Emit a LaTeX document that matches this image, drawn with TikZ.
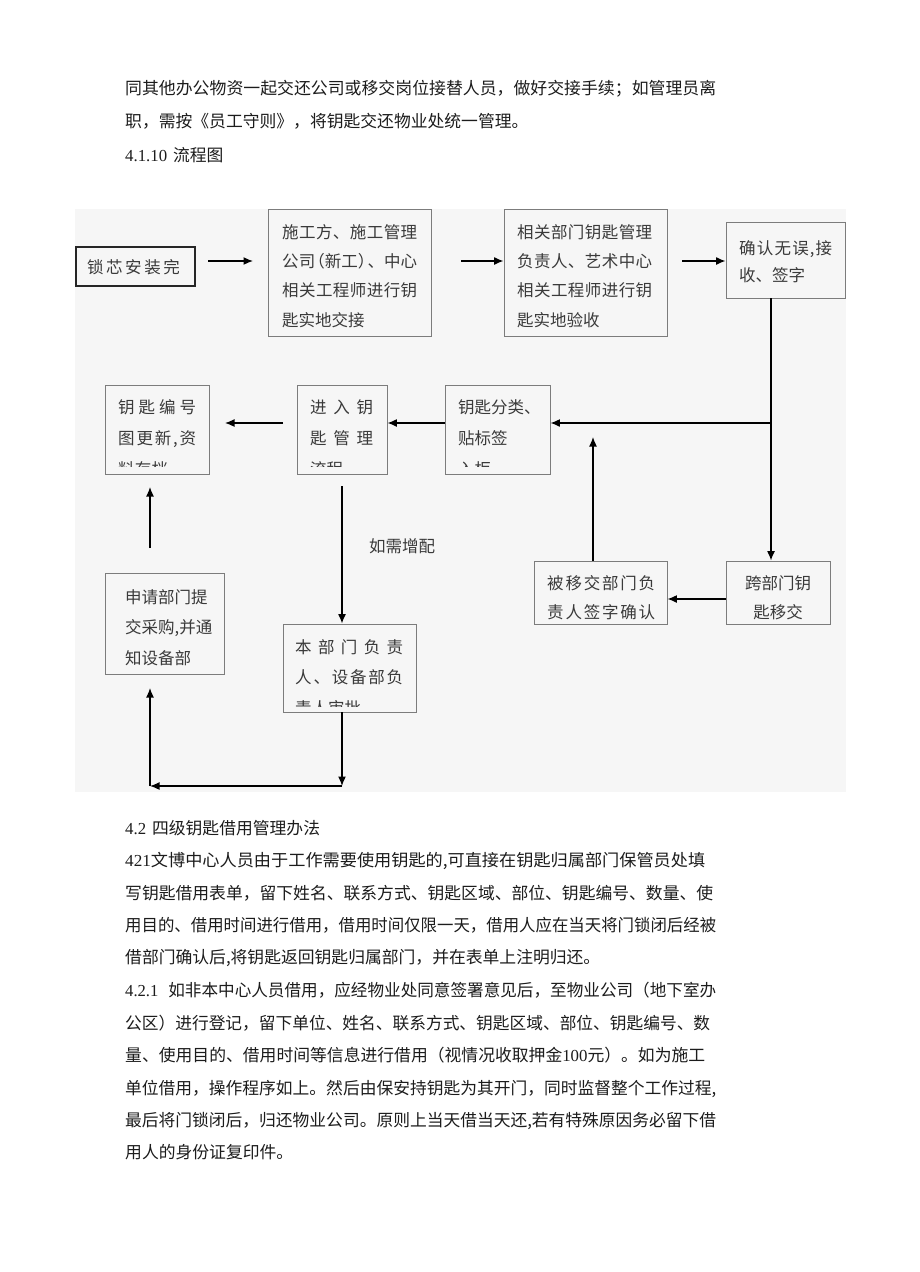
\documentclass[tikz,border=0pt]{standalone}
\usepackage{fontspec}
\usepackage{graphicx}
\usepackage{tikz}
\usetikzlibrary{arrows.meta}
\setmainfont{Noto Sans CJK SC}
\newfontfamily\latn{Liberation Serif}
\definecolor{panelgray}{HTML}{F6F6F6}
\definecolor{boxline}{HTML}{7C7C7C}
\definecolor{boxtext}{HTML}{3A3A3A}
\definecolor{bodytext}{HTML}{1C1C1C}

\makeatletter
% spread the characters of a line over a given width
\newcommand\spreadtext[2]{\makebox[#1][s]{\let\sp@gap\relax\@tfor\sp@ch:=#2\do{\sp@gap\sp@ch\let\sp@gap\hfill}}}
\makeatother
% set a justified body line to a given width
\newcommand\fitline[2]{\resizebox{#1}{\height}{#2}}

\begin{document}
\begin{tikzpicture}[x=1pt,y=1pt,yscale=-1,xscale=1,
    box/.style={draw=boxline,line width=0.9pt,inner sep=0pt},
    boxline/.style={text=boxtext,font=\fontsize{16.5}{16.5}\selectfont,inner sep=0pt,text height=14pt,text depth=2pt},
    body/.style={text=bodytext,font=\fontsize{16.8}{17}\selectfont,inner sep=0pt,anchor=west,text height=14.5pt,text depth=2pt},
    arr/.style={line width=1.3pt,-{Latex[length=9.5pt,width=8pt]}},
    link/.style={line width=1.3pt}]
        %set page size
        \fill[white] (0,0) rectangle (920,1272);
        \useasboundingbox (0,0) rectangle (920,1272);

        % Text Node
        \node [body] (p1) at (125,88) {\fitline{591pt}{同其他办公物资一起交还公司或移交岗位接替人员，做好交接手续；如管理员离}};
        % Text Node
        \node [body] (p2) at (125,121) {职，需按《员工守则》，将钥匙交还物业处统一管理。};
        % Text Node
        \node [body] (h1) at (125,155) {{\latn 4.1.10}\hspace{0.35em}流程图};

        %Shape: Panel
        \fill [panelgray] (75,209) rectangle (846,792);

        %Shape: Rectangle
        \node [box,draw=black!85,line width=1.4pt,minimum width=119pt,minimum height=39pt] (lockdone) at (135.5,266.5) {};
        \node [box,minimum width=163pt,minimum height=127pt] (handover) at (349.5,272.5) {};
        \node [box,minimum width=163pt,minimum height=127pt] (acceptance) at (585.5,272.5) {};
        \node [box,minimum width=119pt,minimum height=76pt] (confirm) at (785.5,260) {};
        \node [box,minimum width=104pt,minimum height=89pt] (mapupdate) at (157,429.5) {};
        \node [box,minimum width=90pt,minimum height=89pt] (keymgmt) at (342,429.5) {};
        \node [box,minimum width=105pt,minimum height=89pt] (classify) at (497.5,429.5) {};
        \node [box,minimum width=104pt,minimum height=63pt] (crossdept) at (778,592.5) {};
        \node [box,minimum width=133pt,minimum height=63pt] (signoff) at (600.5,592.5) {};
        \node [box,minimum width=119pt,minimum height=101pt] (purchase) at (164.5,623.5) {};
        \node [box,minimum width=133pt,minimum height=88pt] (approve) at (349.5,668) {};

        % Text Node
        \node [boxline] (t1) at (133.5,267) {\spreadtext{93pt}{锁芯安装完}};
        % Text Node
        \node [boxline,anchor=west] (t2a) at (282,232) {\spreadtext{135pt}{施工方、施工管理}};
        \node [boxline,anchor=west] (t2b) at (282,261) {\makebox[135pt][s]{公\hfill 司\hfill\kern-7pt（新\hfill 工）\kern-7pt\hfill 、\hfill 中\hfill 心}};
        \node [boxline,anchor=west] (t2c) at (282,290) {\spreadtext{135pt}{相关工程师进行钥}};
        \node [boxline,anchor=west] (t2d) at (282,320) {匙实地交接};
        % Text Node
        \node [boxline,anchor=west] (t3a) at (517,232) {\spreadtext{135pt}{相关部门钥匙管理}};
        \node [boxline,anchor=west] (t3b) at (517,261) {\spreadtext{135pt}{负责人、艺术中心}};
        \node [boxline,anchor=west] (t3c) at (517,290) {\spreadtext{135pt}{相关工程师进行钥}};
        \node [boxline,anchor=west] (t3d) at (517,320) {匙实地验收};
        % Text Node
        \node [boxline,anchor=west] (t4a) at (739,248) {\spreadtext{93pt}{确认无误,接}};
        \node [boxline,anchor=west] (t4b) at (739,275) {收、签字};
        % Text Node
        \node [boxline,anchor=west] (t5a) at (118,407) {\spreadtext{78pt}{钥匙编号}};
        \node [boxline,anchor=west] (t5b) at (118,438) {\spreadtext{78pt}{图更新,资}};
        % Text Node
        \node [boxline,anchor=west] (t6a) at (310,407) {\spreadtext{63pt}{进入钥}};
        \node [boxline,anchor=west] (t6b) at (310,438) {\spreadtext{63pt}{匙管理}};
        % Text Node
        \node [boxline,anchor=west] (t7a) at (458,407) {钥匙分类、};
        \node [boxline,anchor=west] (t7b) at (458,438) {贴标签};
        %cut-off last lines
        \begin{scope}
            \clip (100,450) rectangle (560,466.5);
            \node [boxline,anchor=west] (t5c) at (118,469) {\spreadtext{50pt}{料存档}};
            \node [boxline,anchor=west] (t6c) at (310,469) {流程};
            \node [boxline,anchor=west] (t7c) at (458,469) {入柜};
        \end{scope}
        % Text Node
        \node [boxline] (t8a) at (778,583) {跨部门钥};
        \node [boxline] (t8b) at (778,612) {匙移交};
        % Text Node
        \node [boxline,anchor=west] (t9a) at (547,583) {\spreadtext{108pt}{被移交部门负}};
        \node [boxline,anchor=west] (t9b) at (547,612) {\spreadtext{108pt}{责人签字确认}};
        % Text Node
        \node [boxline,anchor=west] (t10a) at (125,597) {申请部门提};
        \node [boxline,anchor=west] (t10b) at (125,627) {交采购,并通};
        \node [boxline,anchor=west] (t10c) at (125,658) {知设备部};
        % Text Node
        \node [boxline,anchor=west] (t11a) at (295,647) {\spreadtext{108pt}{本部门负责}};
        \node [boxline,anchor=west] (t11b) at (295,677) {\spreadtext{108pt}{人、设备部负}};
        \begin{scope}
            \clip (290,690) rectangle (410,706);
            \node [boxline,anchor=west] (t11c) at (295,708) {责人审批};
        \end{scope}
        % Text Node
        \node [boxline,anchor=west] (extra) at (369,546) {如需增配};

        %Straight Lines
        \coordinate (a1s) at (208,261);
        \coordinate (a1e) at (253,261);
        \draw [arr] (a1s) -- (a1e);
        \coordinate (a2s) at (461,261);
        \draw [arr] (a2s) -- (a2s -| acceptance.west);
        \coordinate (a3s) at (682,261);
        \draw [arr] (a3s) -- (a3s -| confirm.west);
        %down the right side, with a branch to the left
        \coordinate (drop) at (771,423);
        \draw [link] (drop |- confirm.south) -- (drop);
        \draw [arr] (drop) -- (drop |- crossdept.north);
        \draw [arr] (drop) -- (drop -| classify.east);
        \draw [arr] (classify.west |- drop) -- (keymgmt.east |- drop);
        \coordinate (a5s) at (283,423);
        \coordinate (a5e) at (225,423);
        \draw [arr] (a5s) -- (a5e);
        %lower right loop
        \coordinate (side) at (726,599);
        \draw [arr] (side) -- (side -| signoff.east);
        \coordinate (rise) at (593,437);
        \draw [arr] (rise |- signoff.north) -- (rise);
        %extra keys
        \coordinate (need) at (342,486);
        \draw [arr] (need) -- (need |- approve.north);
        \coordinate (low) at (342,786);
        \draw [arr] (need |- approve.south) -- (low);
        \coordinate (corner) at (150,786);
        \draw [arr] (low) -- (corner);
        \coordinate (back) at (150,688);
        \draw [arr] (corner) -- (back);
        \coordinate (upa) at (150,548);
        \coordinate (upb) at (150,487);
        \draw [arr] (upa) -- (upb);

        % Text Node
        \node [body] (h2) at (125,828) {{\latn 4.2}\hspace{0.35em}四级钥匙借用管理办法};
        % Text Node
        \node [body] (q1) at (125,860) {\fitline{580pt}{{\latn 421}文博中心人员由于工作需要使用钥匙的,可直接在钥匙归属部门保管员处填}};
        \node [body] (q2) at (125,893) {\fitline{588pt}{写钥匙借用表单，留下姓名、联系方式、钥匙区域、部位、钥匙编号、数量、使}};
        \node [body] (q3) at (125,925) {\fitline{591pt}{用目的、借用时间进行借用，借用时间仅限一天，借用人应在当天将门锁闭后经被}};
        \node [body] (q4) at (125,957) {借部门确认后,将钥匙返回钥匙归属部门，并在表单上注明归还。};
        % Text Node
        \node [body] (r1) at (125,990) {\fitline{591pt}{{\latn 4.2.1}\hspace{0.6em}如非本中心人员借用，应经物业处同意签署意见后，至物业公司（地下室办}};
        \node [body] (r2) at (125,1023) {\fitline{585pt}{公区）进行登记，留下单位、姓名、联系方式、钥匙区域、部位、钥匙编号、数}};
        \node [body] (r3) at (125,1055) {\fitline{580pt}{量、使用目的、借用时间等信息进行借用（视情况收取押金{\latn 100}元）。如为施工}};
        \node [body] (r4) at (125,1088) {\fitline{591pt}{单位借用，操作程序如上。然后由保安持钥匙为其开门，同时监督整个工作过程,}};
        \node [body] (r5) at (125,1120) {\fitline{591pt}{最后将门锁闭后，归还物业公司。原则上当天借当天还,若有特殊原因务必留下借}};
        \node [body] (r6) at (125,1152) {用人的身份证复印件。};

\end{tikzpicture}
\end{document}
